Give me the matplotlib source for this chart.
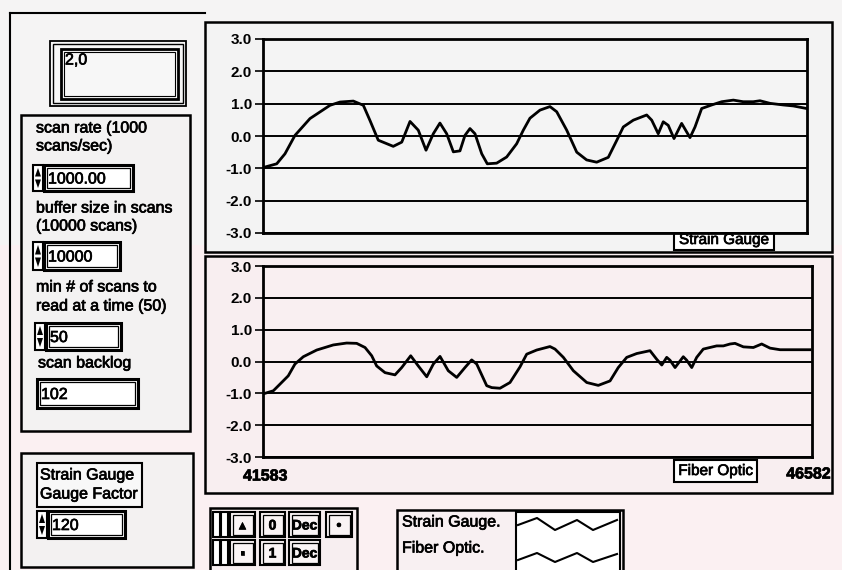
import matplotlib
matplotlib.use('Agg')
import matplotlib.pyplot as plt
from matplotlib.patches import Rectangle, Polygon
import matplotlib.patheffects as pe

plt.rcParams['font.family'] = ['Liberation Sans', 'DejaVu Sans']

# ---------------- data ----------------
x_start, x_end = 41583, 46582
y_ticks = [3.0, 2.0, 1.0, 0.0, -1.0, -2.0, -3.0]
y_tick_labels = ['3.0', '2.0', '1.0', '0.0', '-1.0', '-2.0', '-3.0']

strain_x = [41601, 41709, 41785, 41877, 42015, 42199, 42291, 42413, 42505, 42566,
            42642, 42780, 42858, 42934, 43010, 43081, 43148, 43209, 43271, 43332,
            43393, 43439, 43485, 43531, 43593, 43644, 43730, 43822, 43914, 43975,
            44036, 44128, 44220, 44282, 44374, 44466, 44557, 44649, 44756, 44833,
            44894, 44986, 45109, 45155, 45215, 45261, 45307, 45360, 45430, 45507,
            45553, 45614, 45706, 45798, 45905, 45996, 46088, 46150, 46242, 46364,
            46456, 46579]
strain_y = [-0.96, -0.86, -0.55, 0.02, 0.54, 0.95, 1.05, 1.08, 0.95, 0.48,
            -0.13, -0.32, -0.19, 0.45, 0.18, -0.44, 0.07, 0.40, 0.07, -0.49,
            -0.46, 0.02, 0.23, 0.07, -0.55, -0.86, -0.84, -0.65, -0.24, 0.18,
            0.55, 0.80, 0.91, 0.75, 0.18, -0.50, -0.74, -0.81, -0.66, -0.14,
            0.28, 0.49, 0.65, 0.49, 0.07, 0.44, 0.33, -0.08, 0.39, -0.05,
            0.28, 0.85, 0.96, 1.06, 1.11, 1.06, 1.06, 1.09, 1.01, 0.96,
            0.93, 0.85]

fiber_x = [41601, 41677, 41738, 41813, 41874, 41950, 42072, 42223, 42345, 42436,
           42512, 42573, 42618, 42694, 42785, 42846, 42928, 42997, 43074, 43134,
           43195, 43270, 43347, 43422, 43483, 43529, 43620, 43666, 43741, 43832,
           43923, 43984, 44075, 44196, 44242, 44318, 44409, 44531, 44636, 44743,
           44818, 44895, 44986, 45107, 45168, 45214, 45259, 45289, 45335, 45410,
           45441, 45487, 45532, 45592, 45653, 45714, 45775, 45836, 45881, 45957,
           46048, 46124, 46200, 46291, 46412, 46564]
fiber_y = [-1.00, -0.92, -0.71, -0.45, -0.08, 0.15, 0.36, 0.52, 0.58, 0.57,
           0.44, 0.18, -0.14, -0.35, -0.42, -0.19, 0.18, -0.14, -0.48, -0.08,
           0.16, -0.29, -0.50, -0.19, 0.05, -0.08, -0.76, -0.82, -0.84, -0.66,
           -0.17, 0.23, 0.36, 0.47, 0.39, 0.13, -0.29, -0.66, -0.75, -0.61,
           -0.19, 0.13, 0.25, 0.34, 0.07, -0.11, 0.13, 0.04, -0.19, 0.15,
           0.04, -0.19, 0.13, 0.39, 0.44, 0.49, 0.49, 0.55, 0.57, 0.46,
           0.44, 0.55, 0.42, 0.37, 0.37, 0.37]

series_names = ['Strain Gauge', 'Fiber Optic']
legend_names = ['Strain Gauge.', 'Fiber Optic.']

# ---------------- figure ----------------
W, H = 842, 570
fig = plt.figure(figsize=(W / 100, H / 100), dpi=100)
fig.patch.set_facecolor('#f5f4f4')
bg = fig.add_axes([0, 0, 1, 1])
bg.set_xlim(0, W)
bg.set_ylim(H, 0)
bg.axis('off')
bg.set_zorder(0)

thick = [pe.withStroke(linewidth=0.5, foreground='black')]


def rect(x0, y0, x1, y1, lw=1.5, fc='none', ec='black', z=2):
    bg.add_patch(Rectangle((x0, y0), x1 - x0, y1 - y0, lw=lw, fc=fc, ec=ec, zorder=z))


def txt(x, y, s, size=11.5, weight='normal', ha='left'):
    bg.text(x, y, s, fontsize=size, weight=weight, ha=ha, va='center', zorder=5,
            path_effects=thick)


# pinkish tint of the scan in the lower part
rect(0, 245, W, H, lw=0, fc='#fbf0f2', z=0)

# outer panel frame lines
bg.plot([10, 205], [13, 13], color='black', lw=1.5, zorder=2)
bg.plot([10, 10], [13, H], color='black', lw=1.5, zorder=2)

# "2,0" display
rect(50, 41, 186, 106, lw=1.3, fc='#f7f7f7')
rect(53, 44, 183, 103, lw=1.0)
rect(61, 49, 178, 99, lw=2.0)
rect(64, 52, 175, 96, lw=0.8)
txt(65, 60, '2,0', size=11.5)

# main parameter panel
rect(21, 115, 190, 431, lw=1.8, fc='#f3f2f2')
rect(21, 453, 193, 567, lw=1.8, fc='#f3f1f1')


def numctl(x0, y0, x1, y1, text, arrows=True):
    if arrows:
        rect(x0, y0, x0 + 10, y1, lw=1.5, fc='white', z=3)
        ym = (y0 + y1) / 2
        bg.add_patch(Polygon([[x0 + 2, ym - 1.5], [x0 + 8, ym - 1.5], [x0 + 5, y0 + 3]],
                             closed=True, fc='black', zorder=4))
        bg.add_patch(Polygon([[x0 + 2, ym + 1.5], [x0 + 8, ym + 1.5], [x0 + 5, y1 - 3]],
                             closed=True, fc='black', zorder=4))
        bx = x0 + 11
    else:
        bx = x0
    rect(bx, y0, x1, y1, lw=2.2, fc='white', z=3)
    rect(bx + 3, y0 + 3, x1 - 3, y1 - 3, lw=0.9, z=3)
    txt(bx + 4, (y0 + y1) / 2 + 1, text, size=11.5)


txt(36, 128, 'scan rate (1000')
txt(36, 146, 'scans/sec)')
numctl(33, 165, 133, 191, '1000.00')
txt(36, 208, 'buffer size in scans')
txt(36, 226, '(10000 scans)')
numctl(33, 242, 120, 270, '10000')
txt(36, 287, 'min # of scans to')
txt(36, 306, 'read at a time (50)')
numctl(35, 323, 121, 350, '50')
txt(38, 363, 'scan backlog')
numctl(37, 379, 138, 408, '102', arrows=False)

# gauge factor
rect(37, 463, 142, 507, lw=1.5, fc='#f8f8f8', z=3)
txt(40, 475, 'Strain Gauge')
txt(40, 494, 'Gauge Factor')
numctl(37, 511, 125, 538, '120')

# graph frames
rect(205, 22, 832, 252, lw=1.8, fc='#f3f3f3')
rect(205, 256, 832, 493, lw=1.8, fc='#f8eef0')

# bottom button panel
rect(210, 508, 357, 575, lw=1.8, fc='#f7eef0')


def button(x0, y0, x1, y1, s):
    rect(x0, y0, x1, y1, lw=1.5, fc='#faf4f5', z=3)
    rect(x0 + 2.5, y0 + 2.5, x1 - 2.5, y1 - 2.5, lw=0.9, z=3)
    txt((x0 + x1) / 2, (y0 + y1) / 2 + 1, s, size=10, weight='bold', ha='center')


for (yy0, yy1) in [(512, 537), (540, 565)]:
    rect(213, yy0, 220, yy1, lw=1.5, fc='white', z=3)
    rect(221, yy0, 228, yy1, lw=1.5, fc='white', z=3)
button(230, 512, 255, 537, '\u25b4')
button(260, 512, 285, 537, '0')
button(289, 512, 320, 537, 'Dec')
button(326, 512, 352, 537, '\u2022')
button(230, 540, 255, 565, '\u25aa')
button(260, 540, 285, 565, '1')
button(289, 540, 320, 565, 'Dec')

# legend
rect(397, 510, 623, 578, lw=1.8, fc='#f8f0f2')
rect(516, 512, 620, 578, lw=1.5, fc='white', z=3)
txt(402, 522, legend_names[0], size=11.5)
txt(402, 548, legend_names[1], size=11.5)
zig_x = [518, 537, 555, 577, 593, 617]
bg.plot(zig_x, [525, 518, 530, 520, 530, 520], color='black', lw=1.5, zorder=4)
bg.plot(zig_x, [560, 553, 562, 553, 562, 554], color='black', lw=1.5, zorder=4)


# ---------------- graphs ----------------
def ax_at(x0, y0, x1, y1):
    return fig.add_axes([x0 / W, 1 - y1 / H, (x1 - x0) / W, (y1 - y0) / H])


def style(ax, fc):
    ax.set_facecolor(fc)
    ax.set_xlim(x_start, x_end)
    ax.set_ylim(-3, 3)
    ax.set_xticks([])
    ax.set_yticks(y_ticks)
    ax.set_yticklabels(y_tick_labels, fontsize=11, weight='bold')
    ax.tick_params(axis='y', length=6, width=1.2, pad=2, color='black')
    for yv in y_ticks:
        ax.axhline(yv, color='black', lw=1.4, zorder=1)
    for sp in ax.spines.values():
        sp.set_linewidth(2.0)


ax1 = ax_at(263, 39, 807, 233)
style(ax1, '#f4f4f4')
ax1.plot(strain_x, strain_y, color='black', lw=2.0, zorder=3,
         solid_joinstyle='round')

ax2 = ax_at(263, 266, 812, 457)
style(ax2, '#f9eff1')
ax2.plot(fiber_x, fiber_y, color='black', lw=2.0, zorder=3,
         solid_joinstyle='round')

# graph name labels
rect(674, 229, 774, 250, lw=1.5, fc='white', z=3)
txt(724, 240, series_names[0], size=11, ha='center')
rect(674, 460, 757, 482, lw=1.5, fc='white', z=3)
txt(715.5, 471, series_names[1], size=11, ha='center')

txt(243, 476, str(x_start), size=11.5, weight='bold')
txt(831, 474, str(x_end), size=11.5, weight='bold', ha='right')

ax1.set_zorder(1)
ax2.set_zorder(1)

fig.savefig('out.png', dpi=100, facecolor=fig.get_facecolor())
